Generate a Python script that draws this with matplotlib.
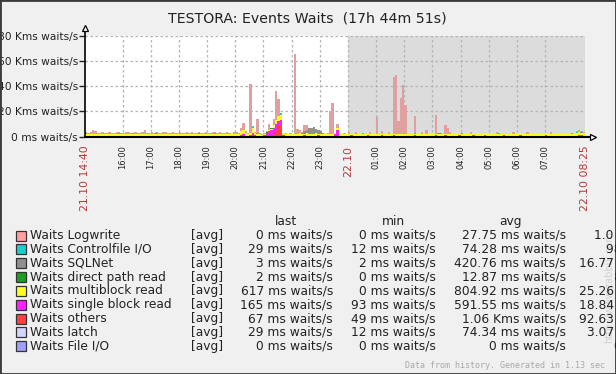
import matplotlib
matplotlib.use('Agg')
import matplotlib.pyplot as plt
import numpy as np
from matplotlib.patches import Rectangle

# 5-minute bins from 21.10 14:40 to 22.10 08:25, values in Kms waits/s
n_bins = 213
bin_min = 5

logwrite = [
    3.5, 3.0, 3.2, 4.8,
    4.5, 3.0, 2.8, 3.6, 3.1, 2.9, 3.4, 3.0, 2.7, 3.3, 3.8, 3.0,
    2.9, 3.2, 3.5, 2.6, 3.0, 3.4, 2.8, 3.1, 3.6, 4.8, 3.0, 2.7,
    3.2, 2.9, 3.5, 3.0, 2.6, 3.3, 3.9, 2.8, 3.1, 3.4, 2.9, 3.0,
    3.4, 2.8, 3.1, 3.7, 2.9, 3.2, 3.0, 2.7, 3.5, 3.1, 2.8, 3.3,
    3.0, 2.9, 3.6, 3.2, 2.8, 3.4, 3.1, 2.9, 3.3, 3.0, 2.7, 3.5,
    3.2, 3.0, 6.5, 10.5, 4.0, 3.0, 41.8, 7.5, 3.5, 13.7, 2.5, 2.0,
    2.5, 4.0, 10.0, 5.0, 14.0, 36.0, 29.6, 11.8, 3.0, 2.5, 2.0, 2.5,
    2.0, 65.7, 5.7, 5.0, 3.5, 9.0, 9.0, 6.0, 5.0, 7.0, 4.5, 3.5,
    3.0, 2.5, 3.0, 2.5, 20.0, 26.4, 3.0, 10.0, 2.5, 2.0, 3.0, 2.0,
    3.8, 2.0, 1.5, 3.6, 2.0, 1.5, 2.0, 1.8, 2.0, 3.5, 1.5, 2.0,
    15.8, 2.0, 4.4, 1.5, 2.0, 3.6, 2.0, 47.6, 49.0, 12.6, 31.0, 41.0,
    25.0, 2.0, 1.5, 2.0, 16.3, 2.0, 1.5, 3.8, 2.0, 5.0, 1.5, 2.0,
    2.0, 17.0, 1.5, 2.0, 2.0, 9.0, 6.5, 3.6, 2.0, 1.5, 2.0, 2.0,
    1.5, 2.0, 2.0, 1.5, 3.6, 2.0, 1.5, 2.0, 2.0, 1.5, 2.0, 2.0,
    2.0, 1.5, 2.0, 3.6, 2.0, 1.5, 2.0, 2.0, 1.5, 2.0, 3.6, 2.0,
    1.5, 2.0, 2.0, 1.5, 3.6, 2.0, 2.0, 1.5, 2.0, 2.0, 1.5, 2.0,
    2.0, 1.5, 3.6, 2.0, 1.5, 2.0, 2.0, 1.5, 2.0, 2.0, 1.5, 2.0,
    2.0, 4.5, 5.0, 4.5, 3.5,
]

multiblock = [
    1.8, 2.0, 1.9, 2.1,
    2.0, 1.8, 2.1, 1.9, 2.0, 2.2, 1.8, 2.0, 1.9, 2.1, 2.0, 1.8,
    2.1, 1.9, 2.0, 1.8, 2.2, 2.0, 1.9, 2.1, 2.0, 1.8, 2.0, 2.1,
    1.9, 2.0, 2.2, 1.8, 2.0, 1.9, 2.1, 2.0, 1.8, 2.0, 2.1, 1.9,
    2.0, 2.1, 1.9, 2.0, 1.8, 2.2, 2.0, 1.9, 2.1, 2.0, 1.8, 2.0,
    2.1, 1.9, 2.0, 2.2, 1.8, 2.0, 1.9, 2.1, 2.0, 2.2, 2.5, 2.0,
    2.2, 2.0, 4.0, 5.0, 2.5, 2.0, 3.0, 7.0, 2.5, 2.0, 1.8, 1.5,
    2.0, 3.0, 5.0, 6.0, 9.0, 13.0, 16.0, 17.0, 3.0, 2.0, 1.8, 2.0,
    2.0, 2.2, 2.0, 2.5, 2.0, 2.2, 2.5, 2.0, 2.2, 2.0, 2.5, 2.0,
    2.2, 2.0, 2.5, 2.0, 2.2, 2.0, 3.0, 7.0, 2.5, 2.2, 2.0, 2.3,
    2.1, 2.0, 2.2, 2.1, 2.0, 2.1, 2.2, 2.0, 2.1, 2.0, 2.2, 2.1,
    2.0, 2.1, 2.2, 2.0, 2.1, 2.2, 2.0, 2.1, 2.0, 2.2, 2.1, 2.0,
    2.2, 2.1, 2.0, 2.1, 2.2, 2.0, 2.1, 2.0, 2.2, 2.1, 2.0, 2.1,
    2.1, 2.0, 2.2, 2.1, 2.0, 2.1, 2.2, 2.0, 2.1, 2.0, 2.2, 2.1,
    2.0, 2.1, 2.2, 2.0, 2.1, 2.2, 2.0, 2.1, 2.0, 2.2, 2.1, 2.0,
    2.2, 2.1, 2.0, 2.1, 2.2, 2.0, 2.1, 2.0, 2.2, 2.1, 2.0, 2.1,
    2.1, 2.0, 2.2, 2.1, 2.0, 2.1, 2.2, 2.0, 2.1, 2.0, 2.2, 2.1,
    2.0, 2.1, 2.2, 2.0, 2.1, 2.2, 2.0, 2.1, 2.0, 2.2, 2.1, 2.0,
    2.2, 3.0, 3.2, 3.0, 2.6,
]

# sparse series: {bin: value}
controlfile = {14: 2.5, 30: 2.6, 55: 2.4, 68: 3.0, 71: 8.0, 73: 2.5, 83: 18.5,
               92: 2.8, 101: 3.0, 118: 2.6, 140: 2.6, 151: 2.6, 176: 2.6,
               207: 2.6, 209: 3.4}
sqlnet = {0: 2.5, 20: 2.5, 48: 2.4, 93: 4.0, 94: 5.5, 95: 6.5, 96: 7.0,
          97: 7.5, 98: 6.0, 99: 5.0, 100: 4.0, 101: 3.0, 150: 2.8, 160: 2.6,
          211: 3.4}
direct_path = {71: 5.0, 77: 3.5, 78: 5.5, 79: 6.5, 98: 1.0}
single_block = {66: 1.0, 67: 2.0, 70: 1.5, 71: 3.0, 72: 1.0, 76: 1.5, 77: 2.5,
                78: 4.0, 79: 5.0, 80: 7.0, 81: 10.0, 82: 12.5, 83: 13.5,
                84: 1.5, 93: 1.0, 99: 1.0, 106: 2.0, 107: 5.0, 113: 1.0,
                120: 0.8, 126: 1.0, 131: 1.2, 140: 0.8, 149: 1.0, 153: 1.0,
                159: 0.8, 165: 0.8, 170: 1.0, 178: 0.8, 185: 1.0, 196: 0.8,
                210: 1.2, 211: 1.2}
others = {80: 3.0, 81: 6.0, 82: 8.5, 83: 9.0, 107: 1.5}
latch = {}
file_io = {}

names = ['Waits Logwrite', 'Waits Controlfile I/O', 'Waits SQLNet',
         'Waits direct path read', 'Waits multiblock read',
         'Waits single block read', 'Waits others', 'Waits latch',
         'Waits File I/O']
colors = ['#ffa0a0', '#1ccfcf', '#909090', '#1e9e1e', '#ffff20',
          '#ff20ff', '#ff4040', '#d4d4ff', '#a0a0ff']
bar_colors = ['#e0a0a0', '#1ccfcf', '#909090', '#1e9e1e', '#ffff20',
              '#ff20ff', '#ff4040', '#d4d4ff', '#a0a0ff']
last_vals = ['0 ms waits/s', '29 ms waits/s', '3 ms waits/s', '2 ms waits/s',
             '617 ms waits/s', '165 ms waits/s', '67 ms waits/s',
             '29 ms waits/s', '0 ms waits/s']
min_vals = ['0 ms waits/s', '12 ms waits/s', '2 ms waits/s', '0 ms waits/s',
            '0 ms waits/s', '93 ms waits/s', '49 ms waits/s', '12 ms waits/s',
            '0 ms waits/s']
avg_vals = ['27.75 ms waits/s', '74.28 ms waits/s', '420.76 ms waits/s',
            '12.87 ms waits/s', '804.92 ms waits/s', '591.55 ms waits/s',
            '1.06 Kms waits/s', '74.34 ms waits/s', '0 ms waits/s']
max_vals = ['1.0 Kms waits/s', '98 ms waits/s', '16.77 Kms waits/s',
            '8 ms waits/s', '25.26 Kms waits/s', '18.84 Kms waits/s',
            '92.63 Kms waits/s', '3.07 Kms waits/s', '0 ms waits/s']

hour_ticks = ['16:00', '17:00', '18:00', '19:00', '20:00', '21:00', '22:00',
              '23:00', '22.10', '01:00', '02:00', '03:00', '04:00', '05:00',
              '06:00', '07:00']


def dense(d):
    a = np.zeros(n_bins)
    for k, v in d.items():
        a[k] = v
    return a


series = [np.array(logwrite), dense(controlfile), dense(sqlnet),
          dense(direct_path), np.array(multiblock), dense(single_block),
          dense(others), dense(latch), dense(file_io)]

W, H = 616, 374
fig = plt.figure(figsize=(W / 100, H / 100), dpi=100, facecolor='#f0f0f0')


def fx(x):
    return x / W


def fy(y):
    return 1 - y / H


ax = fig.add_axes([fx(85), fy(136.5), 500 / W, 100.5 / H])
ax.set_facecolor('white')
total = n_bins * bin_min
ax.set_xlim(0, total)
ax.set_ylim(0, 80)

# non-working period shading
ax.axvspan(560, total, color='#dcdcdc', lw=0, zorder=0)

grid_kw = dict(color='#b4b4b4', ls=(0, (2, 2)), lw=0.9, zorder=1)
for v in [20, 40, 60, 80]:
    ax.axhline(v, **grid_kw)
tick_pos = [80 + 60 * i for i in range(len(hour_ticks))]
for t in tick_pos + [total]:
    ax.axvline(t, **grid_kw)

x = np.arange(n_bins) * bin_min
for i, s in enumerate(series):
    ax.bar(x, s, width=bin_min, align='edge', color=bar_colors[i],
           linewidth=0, zorder=2 + i)

for sp in ax.spines.values():
    sp.set_visible(False)

# axes with arrows
ax.plot([0, 0], [0, 1.07], transform=ax.transAxes, color='black', lw=1.2,
        clip_on=False, zorder=20)
ax.plot([0, 1.016], [-0.005, -0.005], transform=ax.transAxes, color='black',
        lw=1.5, clip_on=False, zorder=20)
ax.plot([0], [1.075], transform=ax.transAxes, marker='^', ms=5,
        mfc='white', mec='black', mew=0.9, clip_on=False, zorder=21)
ax.plot([1.016], [-0.005], transform=ax.transAxes, marker='>', ms=5,
        mfc='white', mec='black', mew=0.9, clip_on=False, zorder=21)

ax.set_yticks([0, 20, 40, 60, 80],
              ['0 ms waits/s', '20 Kms waits/s', '40 Kms waits/s',
               '60 Kms waits/s', '80 Kms waits/s'])
ax.tick_params(axis='y', length=4, width=1, color='#222222', pad=1,
               labelsize=7.65, labelcolor='#222222')

xt = [0] + tick_pos + [total]
xl = ['21.10 14:40'] + hour_ticks + ['22.10 08:25']
ax.set_xticks(xt, xl, rotation=90)
ax.tick_params(axis='x', length=0, pad=6.5, labelsize=6, labelcolor='#222222')
for lab in ax.get_xticklabels():
    if '.' in lab.get_text():
        lab.set_color('#b03a3a')
        lab.set_fontsize(7.8)

fig.text(fx(307.5), fy(18), 'TESTORA: Events Waits  (17h 44m 51s)',
         ha='center', va='center', fontsize=10.2, color='#222222')

# legend table
fs = 8.8
tc = '#222222'
fig.text(fx(286), fy(221.7), 'last', ha='center', va='center', fontsize=fs, color=tc)
fig.text(fx(393), fy(221.7), 'min', ha='center', va='center', fontsize=fs, color=tc)
fig.text(fx(510), fy(221.7), 'avg', ha='center', va='center', fontsize=fs, color=tc)
fig.text(fx(645), fy(221.7), 'max', ha='center', va='center', fontsize=fs, color=tc)
for i in range(len(names)):
    yc = 235.5 + 13.85 * i
    fig.patches.append(Rectangle((fx(15.5), fy(yc + 5)), 10 / W, 10 / H,
                                 transform=fig.transFigure,
                                 facecolor=colors[i], edgecolor='#333333',
                                 lw=0.9))
    fig.text(fx(30), fy(yc), names[i], ha='left', va='center', fontsize=fs, color=tc)
    fig.text(fx(191), fy(yc), '[avg]', ha='left', va='center', fontsize=fs, color=tc)
    fig.text(fx(333), fy(yc), last_vals[i], ha='right', va='center', fontsize=fs, color=tc)
    fig.text(fx(436), fy(yc), min_vals[i], ha='right', va='center', fontsize=fs, color=tc)
    fig.text(fx(566), fy(yc), avg_vals[i], ha='right', va='center', fontsize=fs, color=tc)
    fig.text(fx(691), fy(yc), max_vals[i], ha='right', va='center', fontsize=fs, color=tc)

fig.text(fx(605), fy(366), 'Data from history. Generated in 1.13 sec',
         ha='right', va='center', fontsize=6, family='DejaVu Sans Mono',
         color='#a8a8a8')
fig.text(fx(609), fy(287), 'http://www.zabbix.com', rotation=90,
         ha='center', va='center', fontsize=7, color='#d0d0d0', zorder=0)

fig.patches.append(Rectangle((0, 0), 1, 1, transform=fig.transFigure,
                             fill=False, edgecolor='#3a3a3a', lw=2))

fig.savefig('out.png', dpi=100, facecolor=fig.get_facecolor())
